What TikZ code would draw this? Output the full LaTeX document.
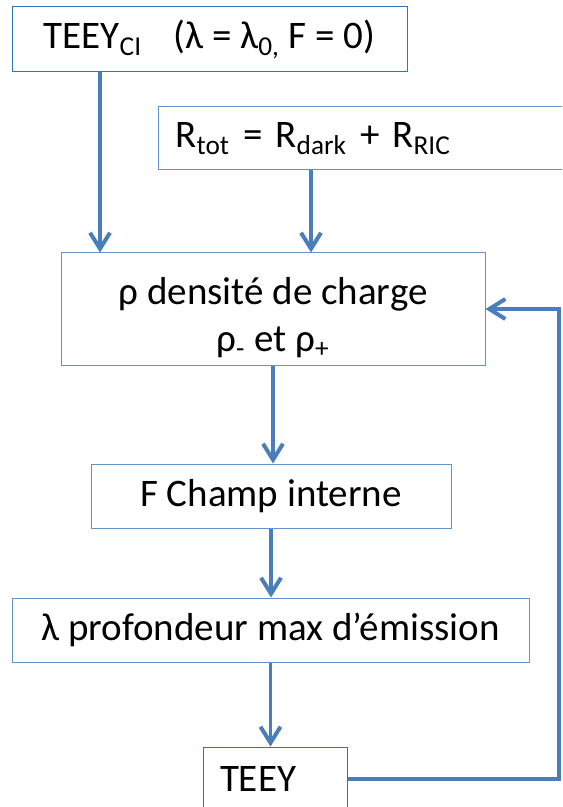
\documentclass[tikz,border=0pt]{standalone}
\usepackage{fontspec}
\setmainfont{Carlito}
\usetikzlibrary{arrows.meta}
\definecolor{boxblue}{RGB}{100,146,205}
\definecolor{darkbox}{RGB}{46,117,190}
\definecolor{arrblue}{RGB}{74,126,187}

\begin{document}
\begin{tikzpicture}[x=1pt,y=-1pt,
  every node/.style={draw=boxblue, line width=0.5pt, inner sep=0pt, font=\fontsize{19.5}{23.5}\selectfont},
  arr/.style={draw=arrblue, line width=1.6pt, -{Straight Barb[length=8pt,width=10pt,line width=2pt]}}]
\clip (0,0) rectangle (281,403.5);
\node[draw=darkbox, minimum width=197.5pt, minimum height=32.5pt] (ci) at (104.75,19.75) {TEEY\textsubscript{CI}\hspace{0.8em}(λ = λ\textsubscript{0,} F = 0)};
\node[anchor=west, minimum height=31.5pt, text width=195pt, inner xsep=8.5pt, align=left] (rtot) at (79,69.25) {R\textsubscript{tot} = R\textsubscript{dark} + R\textsubscript{RIC}};
\node[minimum width=212pt, minimum height=56pt, align=center] (rho) at (136.5,154.5) {\rule{0pt}{22pt}ρ densité de charge\\ρ\textsubscript{-} et ρ\textsubscript{+}};
\node[minimum width=180pt, minimum height=32pt] (field) at (135.5,248) {F Champ interne};
\node[minimum width=258.5pt, minimum height=32pt] (lambda) at (135.25,315) {λ profondeur max d’émission};
\node[draw=darkbox, minimum height=32pt, text width=55pt, inner xsep=8.5pt, align=left] (teey) at (137.5,389.5) {TEEY};
\coordinate (bend) at (279.5,154.5);
\draw[arr] ([xshift=-54.75pt]ci.south) -- ([xshift=-54.75pt]ci.south |- rho.north);
\draw[arr] ([xshift=76.5pt]rtot.south west) -- ([xshift=76.5pt]rtot.south west |- rho.north);
\draw[arr] (rho.south) -- (rho.south |- field.north);
\draw[arr] (field.south) -- (field.south |- lambda.north);
\draw[arr] (lambda.south) -- (lambda.south |- teey.north);
\draw[arr] (teey.east) -| (bend) -- (rho.east);
\end{tikzpicture}
\end{document}
